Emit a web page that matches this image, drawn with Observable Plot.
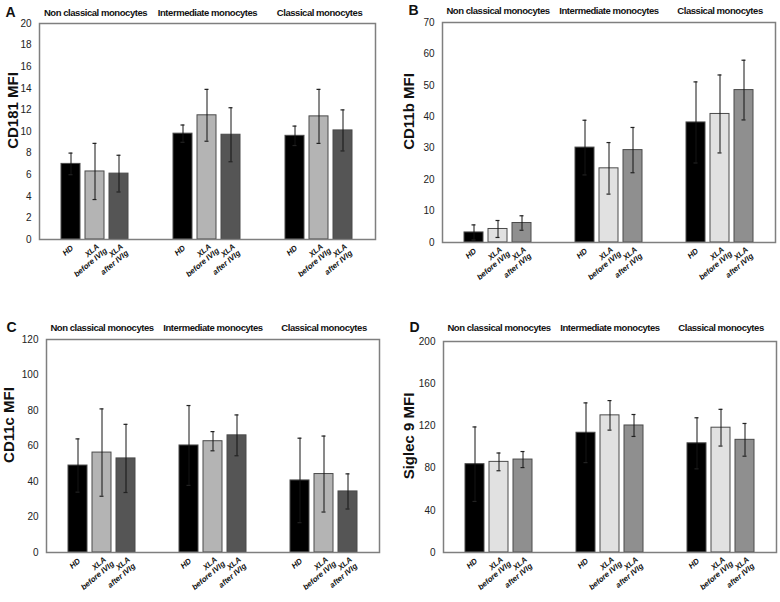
<!DOCTYPE html>
<html>
<head>
<meta charset="utf-8">
<script src="https://cdn.jsdelivr.net/npm/d3@7"></script>
<script src="https://cdn.jsdelivr.net/npm/@observablehq/plot@0.6"></script>
<style>
  body { margin: 0; background: #fff; }
  #grid { position: relative; width: 780px; height: 602px; overflow: hidden; }
  .panel { position: absolute; }
</style>
</head>
<body>
<div id="grid"></div>
<script>
// ---- data ----
const groups = ["Non classical monocytes", "Intermediate monocytes", "Classical monocytes"];
const conditions = ["HD", "XLA\nbefore IVIg", "XLA\nafter IVIg"];

// values in group-major order: [Non classical HD, before, after, Intermediate ..., Classical ...]
const cd181Mean = [7.0, 6.3, 6.1, 9.8, 11.5, 9.7, 9.6, 11.4, 10.1];
const cd181Err  = [1.0, 2.6, 1.7, 0.8, 2.4, 2.5, 0.9, 2.5, 1.9];

const cd11bMean = [3.2, 4.3, 6.2, 30.2, 23.6, 29.4, 38.2, 40.9, 48.5];
const cd11bErr  = [2.4, 2.7, 2.3, 8.7, 8.2, 7.2, 12.9, 12.4, 9.5];

const cd11cMean = [49.0, 56.3, 53.0, 60.3, 62.7, 66.0, 40.6, 44.2, 34.4];
const cd11cErr  = [15.0, 24.6, 19.2, 22.5, 5.4, 11.5, 23.8, 21.4, 9.9];

const siglecMean = [83.7, 85.9, 88.1, 113.5, 130.0, 120.4, 103.5, 118.3, 106.8];
const siglecErr  = [35.3, 8.4, 7.6, 28.3, 14.0, 10.4, 24.2, 17.4, 15.5];

const cd181Ticks = [0, 2, 4, 6, 8, 10, 12, 14, 16, 18, 20];
const cd11bTicks = [0, 10, 20, 30, 40, 50, 60, 70];
const cd11cTicks = [0, 20, 40, 60, 80, 100, 120];
const siglecTicks = [0, 40, 80, 120, 160, 200];

const colorsAC = ["#000000", "#b4b4b4", "#555555"];
const colorsBD = ["#000000", "#e1e1e1", "#8f8f8f"];

const FONT = "'Liberation Sans', Arial, sans-serif";

function makePanel(cfg) {
  const rows = groups.flatMap((g, i) => conditions.map((c, j) => ({
    group: g, cond: c, mean: cfg.mean[i * 3 + j], err: cfg.err[i * 3 + j]
  })));
  const ticks = cfg.ticks;
  const labelStyle = {
    fx: "group", x: "cond", frameAnchor: "bottom",
    rotate: -40, textAnchor: "middle", lineAnchor: "middle",
    fontStyle: "italic", fontWeight: "bold", fontSize: 7.8, fill: "#111"
  };
  const chart = Plot.plot({
    width: 390,
    height: cfg.height,
    marginLeft: cfg.ml, marginRight: cfg.mr, marginTop: cfg.mt, marginBottom: cfg.mb,
    style: { fontFamily: FONT, fontSize: "10px", color: "#222", background: "transparent", overflow: "visible" },
    fx: { domain: groups, padding: 0, axis: null },
    x: { domain: conditions, paddingInner: 0.2, paddingOuter: 0.845, axis: null },
    y: { domain: [0, ticks[ticks.length - 1]], axis: null },
    color: { domain: conditions, range: cfg.colors },
    marks: [
      Plot.axisY(ticks, { tickSize: 0, tickPadding: 8, label: null, fontSize: 10 }),
      Plot.barY(rows, { fx: "group", x: "cond", y: "mean", fill: "cond", stroke: "#4a4a4a", strokeWidth: 1 }),
      Plot.ruleX(rows, { fx: "group", x: "cond", y1: d => d.mean - d.err, y2: d => d.mean + d.err, stroke: "#151515", strokeWidth: 1 }),
      Plot.tickY(rows, { fx: "group", x: "cond", y: d => d.mean + d.err, insetLeft: 7.5, insetRight: 7.5, stroke: "#222", strokeWidth: 1.2 }),
      Plot.tickY(rows, { fx: "group", x: "cond", y: d => d.mean - d.err, insetLeft: 7.5, insetRight: 7.5, stroke: "#222", strokeWidth: 1.2 }),
      // condition labels: first line, then second line (rotated, centred)
      Plot.text(rows, { ...labelStyle, text: d => d.cond.split("\n")[0], dx: -3, dy: 11 }),
      Plot.text(rows.filter(d => d.cond.includes("\n")), { ...labelStyle, text: d => d.cond.split("\n")[1], dx: -4.5, dy: 23 }),
      Plot.text(groups, {
        fx: d => d, text: d => d, frameAnchor: "top", dy: cfg.titleDy,
        lineAnchor: "middle", textAnchor: "middle", fontWeight: "bold", fontSize: 9.5, fill: "#111"
      }),
      Plot.frame({ facet: "super", stroke: "#7f7f7f", strokeWidth: 1.5 }),
      Plot.text([cfg.yLabel], {
        facet: "super", text: d => d, frameAnchor: "left", rotate: -90, dx: cfg.labelDx, dy: cfg.labelDy,
        textAnchor: "middle", lineAnchor: "middle", fontWeight: "bold", fontSize: 15, fill: "#111"
      }),
      Plot.text([cfg.letter], {
        facet: "super", text: d => d, frameAnchor: "top-left", dx: cfg.letterDx, dy: cfg.letterDy,
        textAnchor: "middle", lineAnchor: "middle", fontWeight: "bold", fontSize: 14, fill: "#111"
      })
    ]
  });
  // condense the group titles slightly
  d3.select(chart).selectAll("text")
    .filter(function () { return groups.includes(this.textContent); })
    .style("letter-spacing", "-0.45px");
  const wrap = document.createElement("div");
  wrap.className = "panel";
  wrap.style.left = cfg.left + "px";
  wrap.style.top = cfg.top + "px";
  wrap.appendChild(chart);
  document.getElementById("grid").appendChild(wrap);
}

makePanel({ letter: "A", yLabel: "CD181 MFI", mean: cd181Mean, err: cd181Err, ticks: cd181Ticks, colors: colorsAC,
  left: 0, top: 0, height: 300, ml: 38, mr: 15, mt: 23, mb: 61,
  titleDy: -11, labelDx: -26, labelDy: -21, letterDx: -29, letterDy: -11 });

makePanel({ letter: "B", yLabel: "CD11b MFI", mean: cd11bMean, err: cd11bErr, ticks: cd11bTicks, colors: colorsBD,
  left: 390, top: 0, height: 300, ml: 51, mr: 4, mt: 22, mb: 58,
  titleDy: -12, labelDx: -33, labelDy: -21, letterDx: -29, letterDy: -12 });

makePanel({ letter: "C", yLabel: "CD11c MFI", mean: cd11cMean, err: cd11cErr, ticks: cd11cTicks, colors: colorsAC,
  left: 0, top: 300, height: 302, ml: 45, mr: 10, mt: 39, mb: 50,
  titleDy: -12, labelDx: -37, labelDy: -21, letterDx: -35, letterDy: -12 });

makePanel({ letter: "D", yLabel: "Siglec 9 MFI", mean: siglecMean, err: siglecErr, ticks: siglecTicks, colors: colorsBD,
  left: 390, top: 300, height: 302, ml: 52, mr: 3, mt: 41, mb: 50,
  titleDy: -14, labelDx: -34, labelDy: -11, letterDx: -29, letterDy: -14 });
</script>
</body>
</html>
